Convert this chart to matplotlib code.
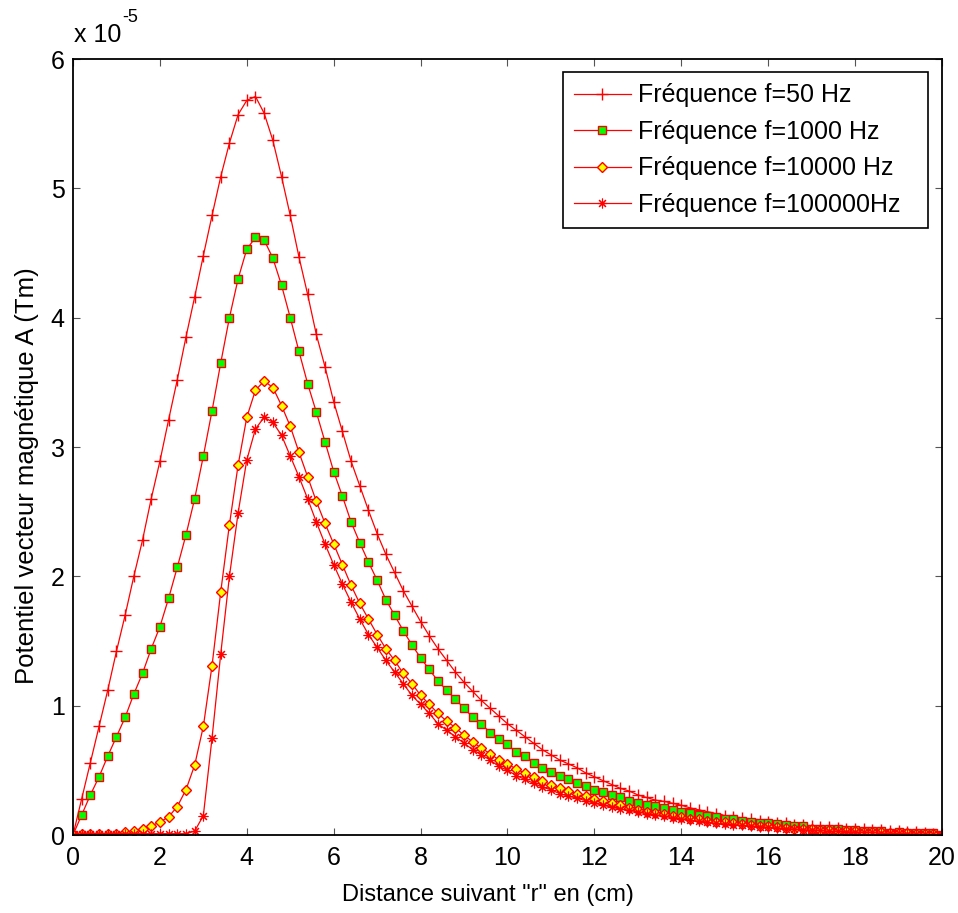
import numpy as np
import matplotlib
matplotlib.use("Agg")
import matplotlib.pyplot as plt

plt.rcParams['font.family'] = ['Liberation Sans', 'DejaVu Sans']

# distance r (cm), mesh step 0.2
r = np.linspace(0, 20, 101)

# A in units of 1e-5 Tm
f50 = [0, 0.28, 0.56, 0.84, 1.12, 1.42, 1.70, 2.00, 2.28, 2.60,
       2.89, 3.21, 3.52, 3.85, 4.16, 4.48, 4.79, 5.09, 5.35, 5.57,
       5.68, 5.71, 5.58, 5.37, 5.09, 4.79, 4.47, 4.18, 3.87, 3.62,
       3.35, 3.12, 2.89, 2.70, 2.51, 2.33, 2.17, 2.03, 1.89, 1.77,
       1.65, 1.54, 1.44, 1.35, 1.26, 1.18, 1.11, 1.04, 0.98, 0.92,
       0.86, 0.81, 0.76, 0.71, 0.66, 0.62, 0.58, 0.55, 0.52, 0.48,
       0.45, 0.42, 0.39, 0.36, 0.34, 0.31, 0.29, 0.27, 0.26, 0.245,
       0.23, 0.21, 0.195, 0.18, 0.165, 0.15, 0.14, 0.13, 0.12, 0.11,
       0.10, 0.095, 0.09, 0.08, 0.075, 0.07, 0.065, 0.06, 0.055, 0.05,
       0.05, 0.045, 0.04, 0.035, 0.03, 0.028, 0.024, 0.02, 0.015, 0.01,
       0.0]
f1000 = [0, 0.155, 0.31, 0.45, 0.61, 0.76, 0.91, 1.09, 1.25, 1.44,
         1.61, 1.83, 2.07, 2.32, 2.60, 2.93, 3.28, 3.65, 4.00, 4.30,
         4.53, 4.62, 4.60, 4.46, 4.25, 4.00, 3.74, 3.49, 3.27, 3.04,
         2.81, 2.62, 2.42, 2.26, 2.11, 1.97, 1.82, 1.70, 1.58, 1.47,
         1.37, 1.28, 1.19, 1.12, 1.05, 0.98, 0.91, 0.86, 0.79, 0.74,
         0.70, 0.64, 0.61, 0.56, 0.52, 0.49, 0.46, 0.43, 0.40, 0.38,
         0.35, 0.33, 0.31, 0.29, 0.265, 0.245, 0.235, 0.225, 0.21, 0.195,
         0.18, 0.17, 0.155, 0.145, 0.137, 0.125, 0.12, 0.105, 0.10, 0.095,
         0.09, 0.085, 0.075, 0.07, 0.07, 0.05, 0.05, 0.05, 0.045, 0.035,
         0.035, 0.03, 0.03, 0.028, 0.018, 0.02, 0.015, 0.015, 0.018, 0.015,
         0.0]
f10000 = [0, 0.01, 0.01, 0.01, 0.01, 0.01, 0.02, 0.03, 0.05, 0.07,
          0.10, 0.14, 0.22, 0.35, 0.54, 0.84, 1.31, 1.88, 2.40, 2.86,
          3.23, 3.44, 3.51, 3.46, 3.32, 3.16, 2.96, 2.77, 2.58, 2.41,
          2.25, 2.09, 1.93, 1.79, 1.67, 1.55, 1.44, 1.35, 1.25, 1.17,
          1.08, 1.01, 0.94, 0.88, 0.83, 0.77, 0.72, 0.67, 0.63, 0.58,
          0.55, 0.51, 0.48, 0.45, 0.42, 0.39, 0.36, 0.34, 0.32, 0.30,
          0.28, 0.26, 0.245, 0.23, 0.21, 0.195, 0.18, 0.17, 0.16, 0.15,
          0.137, 0.125, 0.12, 0.11, 0.10, 0.097, 0.09, 0.085, 0.08, 0.072,
          0.068, 0.06, 0.055, 0.05, 0.05, 0.045, 0.038, 0.035, 0.033, 0.03,
          0.028, 0.025, 0.022, 0.02, 0.016, 0.015, 0.012, 0.01, 0.008, 0.005,
          0.0]
f100000 = [0, 0.01, 0.01, 0.01, 0.01, 0.01, 0.01, 0.01, 0.01, 0.01,
           0.01, 0.01, 0.01, 0.01, 0.03, 0.15, 0.75, 1.40, 2.00, 2.49,
           2.90, 3.14, 3.23, 3.19, 3.09, 2.93, 2.77, 2.60, 2.42, 2.25,
           2.09, 1.94, 1.80, 1.67, 1.55, 1.45, 1.35, 1.26, 1.17, 1.08,
           1.01, 0.94, 0.86, 0.81, 0.76, 0.71, 0.66, 0.62, 0.58, 0.53,
           0.50, 0.46, 0.43, 0.40, 0.37, 0.35, 0.32, 0.30, 0.285, 0.265,
           0.245, 0.23, 0.215, 0.20, 0.19, 0.18, 0.165, 0.155, 0.145, 0.135,
           0.125, 0.115, 0.105, 0.10, 0.09, 0.085, 0.08, 0.075, 0.07, 0.065,
           0.06, 0.055, 0.05, 0.045, 0.04, 0.04, 0.035, 0.03, 0.03, 0.025,
           0.025, 0.02, 0.02, 0.015, 0.015, 0.012, 0.01, 0.008, 0.006, 0.004,
           0.0]

labels = ['Fréquence f=50 Hz', 'Fréquence f=1000 Hz',
          'Fréquence f=10000 Hz', 'Fréquence f=100000Hz']

fig = plt.figure(figsize=(9.58, 9.13), dpi=100)
ax = fig.add_axes([73/958, 1-835/913, 869/958, 776/913])

ax.plot(r, f50, '-', color='red', lw=0.9, marker='+', ms=8, mew=1.0,
        label=labels[0])
ax.plot(r, f1000, '-', color='red', lw=0.9, marker='s', ms=6, mew=1.0,
        mfc=(0, 1, 0), mec='red', label=labels[1])
ax.plot(r, f10000, '-', color='red', lw=0.9, marker='D', ms=5, mew=1.0,
        mfc=(1, 1, 0), mec='red', label=labels[2])
ax.plot(r, f100000, '-', color='red', lw=0.9, marker=(8, 2, 0), ms=7, mew=0.8,
        label=labels[3])

ax.set_xlim(0, 20)
ax.set_ylim(0, 6)
ax.set_xticks(range(0, 21, 2))
ax.set_yticks(range(0, 7))
ax.tick_params(direction='in', length=5, width=0.8, labelsize=18,
               top=True, right=True, color='#555555')
ax.tick_params(axis='x', pad=8)
ax.tick_params(axis='y', pad=6)
for s in ax.spines.values():
    s.set_linewidth(1.3)

leg = ax.legend(loc='upper left', bbox_to_anchor=(0.564, 0.782, 0.420, 0.201),
                mode='expand', borderaxespad=0, fontsize=18, fancybox=False,
                edgecolor='black', framealpha=1, handlelength=2.25,
                handletextpad=0.3, labelspacing=0.5, borderpad=0.45)
leg.get_frame().set_linewidth(1.2)

fig.text(74/958, 1-42/913, 'x 10', fontsize=18, va='baseline')
fig.text(122/958, 1-22/913, '-5', fontsize=13, va='baseline')

fig.text(488/958, 1-895/913, 'Distance suivant "r" en (cm)', fontsize=17,
         ha='center', va='center')
fig.text(27/958, 1-476/913, 'Potentiel vecteur magnétique A (Tm)', fontsize=18.5,
         ha='center', va='center', rotation=90)

fig.savefig('out.png', dpi=100)
